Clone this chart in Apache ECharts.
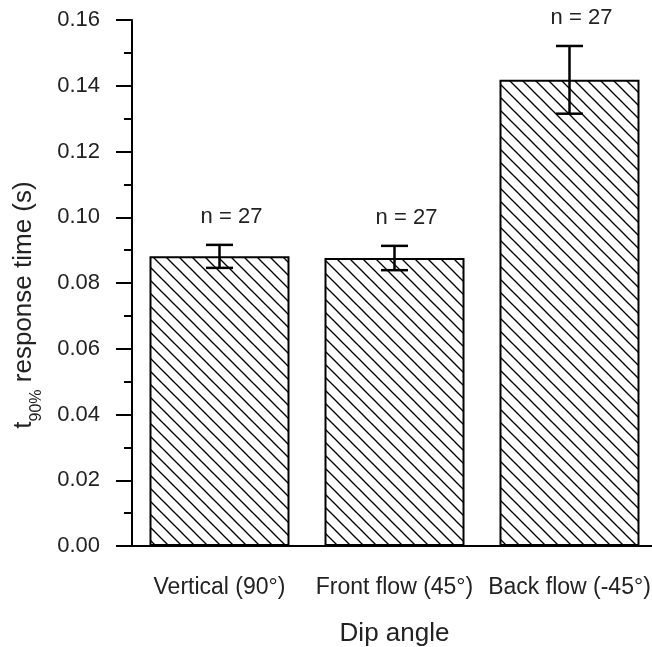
<!DOCTYPE html>
<html>
<head>
<meta charset="utf-8">
<script src="https://cdn.jsdelivr.net/npm/echarts@6/dist/echarts.min.js"></script>
<style>
html,body{margin:0;padding:0;background:#fff;}
#c{width:652px;height:647px;}
</style>
</head>
<body>
<div id="c"></div>
<script>
var categories = ['Vertical (90°)', 'Front flow (45°)', 'Back flow (-45°)'];
var means = [0.0881, 0.0876, 0.1418];
var errors = [0.0035, 0.0037, 0.0103];
var nLabels = ['n = 27', 'n = 27', 'n = 27'];
var yTicks = [0, 0.02, 0.04, 0.06, 0.08, 0.10, 0.12, 0.14, 0.16];

var FONT = 'Liberation Sans, Arial, sans-serif';

// hatch pattern tile
var P = 13;
var tile = document.createElement('canvas');
tile.width = P; tile.height = P;
var tc = tile.getContext('2d');
tc.fillStyle = '#fff';
tc.fillRect(0, 0, P, P);
tc.strokeStyle = '#000';
tc.lineWidth = 1.3;
[-P, 0, P].forEach(function (o) {
  tc.beginPath();
  tc.moveTo(o - 1, -1);
  tc.lineTo(o + P + 1, P + 1);
  tc.stroke();
});

var chart = echarts.init(document.getElementById('c'), null, {renderer: 'canvas'});

var errData = means.map(function (m, i) { return [i, m, errors[i]]; });

chart.setOption({
  animation: false,
  backgroundColor: '#fff',
  grid: {left: 132, width: 525, top: 20, bottom: 101, containLabel: false, outerBoundsMode: 'none'},
  xAxis: [{
    type: 'category',
    data: categories,
    boundaryGap: true,
    name: 'Dip angle',
    nameLocation: 'middle',
    nameGap: 75,
    nameTextStyle: {fontFamily: FONT, fontSize: 26, color: '#222'},
    axisLine: {lineStyle: {color: '#000', width: 2}},
    axisTick: {alignWithLabel: true, length: 16, lineStyle: {color: '#000', width: 2}},
    axisLabel: {fontFamily: FONT, fontSize: 23, color: '#222', margin: 30, interval: 0, hideOverlap: false},
    splitLine: {show: false}
  }, {
    type: 'category',
    data: categories,
    position: 'bottom',
    boundaryGap: true,
    axisLine: {show: false},
    axisTick: {length: 8, lineStyle: {color: '#000', width: 2}},
    axisLabel: {show: false},
    splitLine: {show: false}
  }],
  yAxis: {
    type: 'value',
    min: yTicks[0],
    max: yTicks[yTicks.length - 1],
    interval: 0.02,
    name: '{t|t}{s|90%}{t| response time (s)}',
    nameLocation: 'middle',
    nameGap: 95,
    nameTextStyle: {
      fontFamily: FONT, color: '#222',
      padding: [0, 44, 0, 0],
      rich: {
        t: {fontFamily: FONT, fontSize: 26, color: '#222', verticalAlign: 'bottom', lineHeight: 30},
        s: {fontFamily: FONT, fontSize: 16, color: '#222', verticalAlign: 'bottom', lineHeight: 30, padding: [0, 0, -8, 0]}
      }
    },
    axisLine: {show: true, lineStyle: {color: '#000', width: 2}},
    axisTick: {show: true, length: 16, lineStyle: {color: '#000', width: 2}},
    minorTick: {show: true, splitNumber: 2, length: 8, lineStyle: {color: '#000', width: 2}},
    axisLabel: {
      fontFamily: FONT, fontSize: 22, color: '#222', margin: 32,
      formatter: function (v) { return v.toFixed(2); }
    },
    splitLine: {show: false}
  },
  series: [{
    type: 'bar',
    data: means,
    barWidth: '80%',
    itemStyle: {
      color: {image: tile, repeat: 'repeat'},
      borderColor: '#000',
      borderWidth: 2
    },
    z: 2
  }, {
    type: 'custom',
    data: errData,
    z: 5,
    renderItem: function (params, api) {
      var x = api.value(0), m = api.value(1), e = api.value(2);
      var top = api.coord([x, m + e]);
      var bot = api.coord([x, m - e]);
      var hw = 13.5;
      var st = {stroke: '#000', lineWidth: 2.5};
      return {
        type: 'group',
        children: [
          {type: 'line', shape: {x1: top[0], y1: top[1], x2: bot[0], y2: bot[1]}, style: st},
          {type: 'line', shape: {x1: top[0] - hw, y1: top[1], x2: top[0] + hw, y2: top[1]}, style: st},
          {type: 'line', shape: {x1: bot[0] - hw, y1: bot[1], x2: bot[0] + hw, y2: bot[1]}, style: st},
          {type: 'text', style: {
            text: nLabels[params.dataIndex],
            x: top[0] + 12, y: top[1] - 28,
            align: 'center', verticalAlign: 'middle',
            font: '22px ' + FONT, fill: '#222'
          }}
        ]
      };
    }
  }]
});
</script>
</body>
</html>
